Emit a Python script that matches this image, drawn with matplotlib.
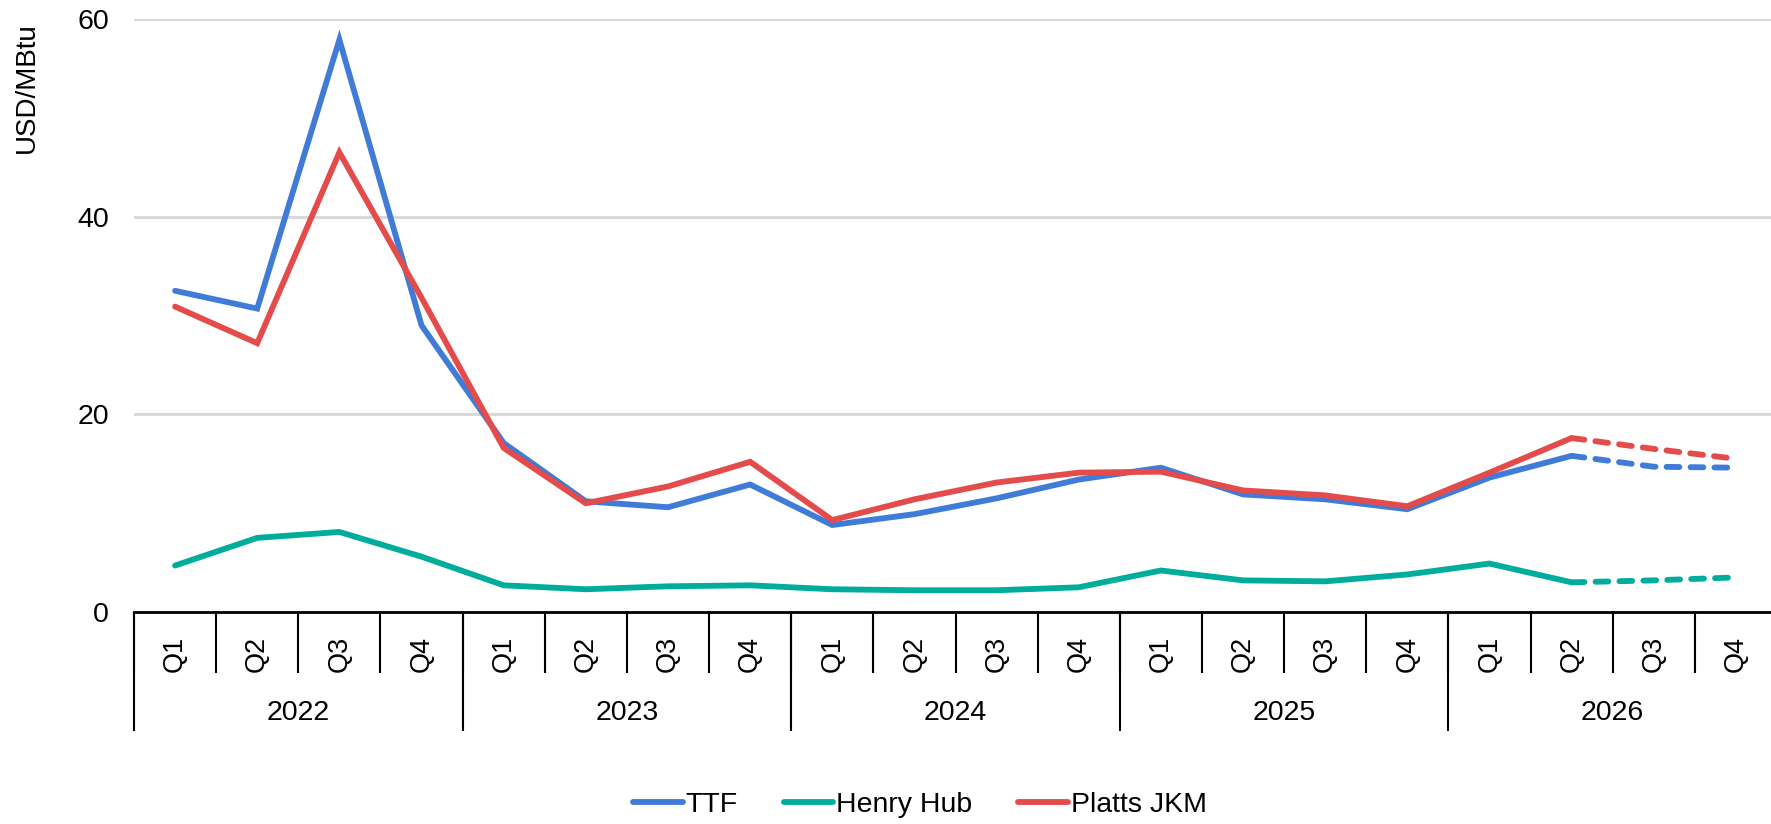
import numpy as np
import matplotlib.pyplot as plt

plt.rcParams['font.family'] = ['Liberation Sans', 'DejaVu Sans']

years = ['2022', '2023', '2024', '2025', '2026']
quarters = ['Q1', 'Q2', 'Q3', 'Q4']
n_hist = 18  # actuals up to Q2 2026, forecast after

ttf = [32.5, 30.7, 57.9, 29.0, 17.1, 11.2, 10.6, 12.9, 8.8, 9.9,
       11.5, 13.4, 14.6, 11.9, 11.4, 10.4, 13.6, 15.8, 14.7, 14.6]
henry_hub = [4.7, 7.5, 8.1, 5.6, 2.7, 2.3, 2.6, 2.7, 2.3, 2.2,
             2.2, 2.5, 4.2, 3.2, 3.1, 3.8, 4.9, 3.0, 3.2, 3.5]
jkm = [30.9, 27.2, 46.5, 31.8, 16.6, 11.0, 12.7, 15.2, 9.3, 11.4,
       13.1, 14.1, 14.2, 12.3, 11.8, 10.7, 14.1, 17.6, 16.5, 15.5]

series = [('TTF', ttf, '#3f7bd7'),
          ('Henry Hub', henry_hub, '#00ad9d'),
          ('Platts JKM', jkm, '#e44b4b')]

fig = plt.figure(figsize=(17.71, 8.24), dpi=100)
ax = fig.add_axes([134/1771, 1 - 612/824, (1777 - 134)/1771, (612 - 19)/824])

x = np.arange(len(ttf))
for name, vals, col in series:
    v = np.asarray(vals)
    ax.plot(x[:n_hist], v[:n_hist], color=col, lw=4.2, label=name,
            solid_capstyle='round', solid_joinstyle='miter')
    ax.plot(x[n_hist - 1:], v[n_hist - 1:], color=col, lw=4.2,
            dashes=(2.2, 1.9), dash_capstyle='round')

ax.set_xlim(-0.5, len(ttf) - 0.5)
ax.set_ylim(0, 60)
ax.set_yticks([0, 20, 40, 60])
ax.tick_params(axis='y', length=0, pad=18, labelsize=20.5)
ax.yaxis.grid(True, color='#d9d9d9', lw=2.2)
ax.set_axisbelow(True)
for s in ['left', 'right', 'top']:
    ax.spines[s].set_visible(False)
ax.spines['bottom'].set_linewidth(2)
ax.spines['bottom'].set_zorder(5)

# quarter labels and separators
ax.set_xticks(x)
ax.set_xticklabels([q for _ in years for q in quarters], rotation=90,
                   fontsize=19.5, va='center')
ax.tick_params(axis='x', which='major', length=0, pad=30)
ax.set_xticks(np.arange(-0.5, len(ttf) - 0.5), minor=True)
ax.tick_params(axis='x', which='minor', length=44, width=1.5, color='black')

# year labels and separators
sec = ax.secondary_xaxis('bottom')
sec.set_xticks(np.arange(len(years)) * 4 + 1.5)
sec.set_xticklabels(years, fontsize=20.5, va='center')
sec.tick_params(axis='x', which='major', length=0, pad=73)
sec.set_xticks(np.arange(len(years)) * 4 - 0.5, minor=True)
sec.tick_params(axis='x', which='minor', length=86, width=1.5, color='black')
sec.spines['bottom'].set_visible(False)

fig.text(27/1771, 1 - 88/824, 'USD/MBtu', rotation=90, ha='center',
         va='center', fontsize=20)

fig.legend(loc='center', bbox_to_anchor=(920/1771, 1 - 805/824), ncol=3,
           frameon=False, fontsize=20.5, handlelength=1.75, handletextpad=0.1,
           columnspacing=1.6)

fig.savefig('out.png', dpi=100)
